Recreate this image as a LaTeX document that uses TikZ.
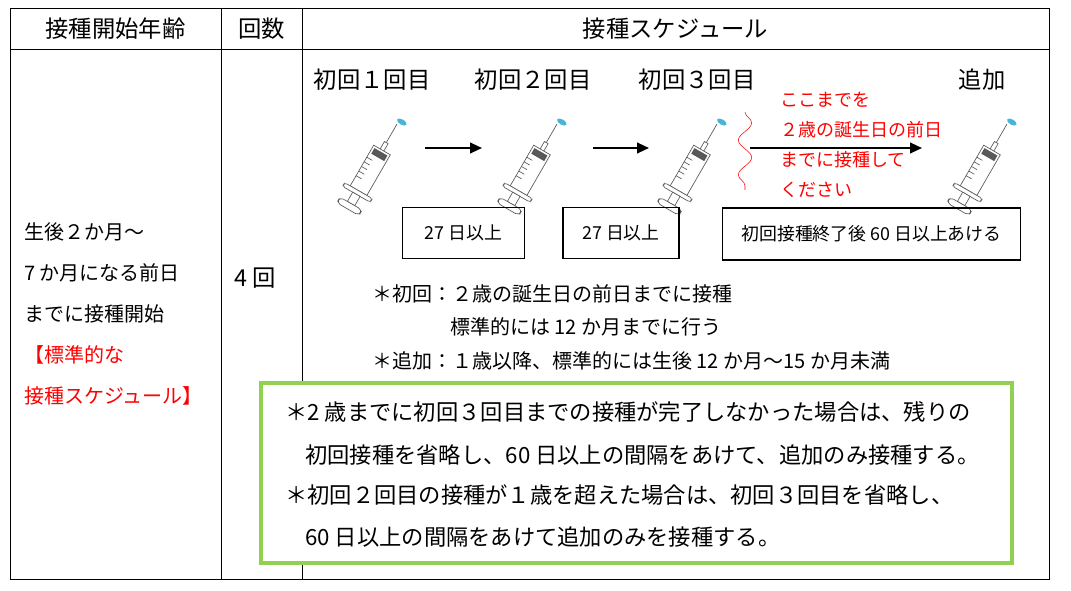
\documentclass[tikz,border=0pt]{standalone}
\usepackage{fontspec}
\setmainfont{Noto Sans CJK JP}
\usetikzlibrary{arrows.meta,decorations.pathmorphing}
\definecolor{notered}{RGB}{255,0,0}
\definecolor{boxgreen}{RGB}{146,208,80}
\definecolor{dropblue}{RGB}{70,180,220}
\tikzset{
  cell/.style={font=\fontsize{17.5}{20}\selectfont},
  txt/.style={font=\fontsize{15}{17}\selectfont,anchor=west,inner sep=0pt},
  bigtxt/.style={font=\fontsize{16.7}{19}\selectfont,anchor=west,inner sep=0pt},
  rtxt/.style={txt,font=\fontsize{13.5}{15}\selectfont,text=notered},
  interval/.style={draw,thick,font=\fontsize{13.4}{15}\selectfont,inner sep=0pt},
  step arrow/.style={-{Triangle[length=9pt,width=8pt]},line width=1.6pt},
  syringe/.pic={
    \begin{scope}[x=0.8pt,y=0.8pt,rotate=-30,line width=0.5pt,draw=gray!70!black]
      \draw[fill=white] (-9,0) rectangle (9,-44);
      \fill[gray!70!black] (-7,-2) rectangle (7,-8);
      \foreach \k in {1,...,5}
        \draw (-9,-8-\k*5) -- (-3,-8-\k*5);
      \draw (-2,0) -- (-2,8) -- (2,8) -- (2,0);
      \draw (0,8) -- (0,28);
      \draw[rounded corners=2pt,fill=white] (-15,-44) rectangle (15,-48);
      \draw[fill=white] (-4,-48) rectangle (4,-58);
      \draw[rounded corners=3pt,fill=white] (-12,-58) rectangle (12,-64);
      \fill[dropblue] (3,32) ellipse (4pt and 2pt);
    \end{scope}
  }
}
\begin{document}
\begin{tikzpicture}[x=0.75pt,y=-0.75pt]
\useasboundingbox (0,0) rectangle (1071,591);
% table frame
\draw (10,8) rectangle (1049,579);
\draw (221,8) -- (221,579);
\draw (302,8) -- (302,579);
\draw (10,49) -- (1049,49);
\node[cell] (hage) at (115.5,29) {接種開始年齢};
\node[cell] (hcount) at (261.5,29) {回数};
\node[cell] (hsched) at (675.5,29) {接種スケジュール};
% left column
\node[txt] (age1) at (24,232) {生後２か月〜};
\node[txt] (age2) at (24,273) {7 か月になる前日};
\node[txt] (age3) at (24,314) {までに接種開始};
\node[txt,text=notered] (age4) at (24,355) {【標準的な};
\node[txt,text=notered] (age5) at (24,396) {接種スケジュール】};
\node[cell] (count) at (255,278) {4 回};
% doses
\node[cell] (dose1) at (372,80) {初回１回目};
\node[cell] (dose2) at (533,80) {初回２回目};
\node[cell] (dose3) at (697,80) {初回３回目};
\node[cell] (dose4) at (982,80) {追加};
\pic at (382,150) {syringe};
\pic at (542,150) {syringe};
\pic at (702,150) {syringe};
\pic at (992,150) {syringe};
\coordinate (a1s) at (425,148); \coordinate (a1e) at (482,148);
\coordinate (a2s) at (593,148); \coordinate (a2e) at (649,148);
\coordinate (a3s) at (750,148); \coordinate (a3e) at (922,148);
\draw[step arrow] (a1s) -- (a1e);
\draw[step arrow] (a2s) -- (a2e);
\draw[step arrow] (a3s) -- (a3e);
\draw[notered,decorate,decoration={snake,amplitude=5pt,segment length=26pt}] (745,112) -- (745,190);
\node[rtxt] (limit1) at (780,100) {ここまでを};
\node[rtxt] (limit2) at (780,130) {２歳の誕生日の前日};
\node[rtxt] (limit3) at (780,160) {までに接種して};
\node[rtxt] (limit4) at (780,190) {ください};
% intervals
\node[interval,minimum width=91,minimum height=38] (gap1) at (463.5,233) {27 日以上};
\node[interval,minimum width=87,minimum height=38] (gap2) at (621,233) {27 日以上};
\node[interval,minimum width=224,minimum height=39] (gap3) at (871.5,234) {初回接種終了後 60 日以上あける};
% notes
\node[txt] (note1) at (372,294) {＊初回：２歳の誕生日の前日までに接種};
\node[txt] (note2) at (450,327) {標準的には 12 か月までに行う};
\node[txt] (note3) at (372,361) {＊追加：１歳以降、標準的には生後 12 か月〜15 か月未満};
% green box
\draw[boxgreen,line width=2.5pt,fill=white] (261,383) rectangle (1012,563);
\node[bigtxt] (rule1) at (285,412) {＊2 歳までに初回３回目までの接種が完了しなかった場合は、残りの};
\node[bigtxt] (rule2) at (305,455) {初回接種を省略し、60 日以上の間隔をあけて、追加のみ接種する。};
\node[bigtxt] (rule3) at (285,495) {＊初回２回目の接種が１歳を超えた場合は、初回３回目を省略し、};
\node[bigtxt] (rule4) at (305,537) {60 日以上の間隔をあけて追加のみを接種する。};
\end{tikzpicture}
\end{document}
